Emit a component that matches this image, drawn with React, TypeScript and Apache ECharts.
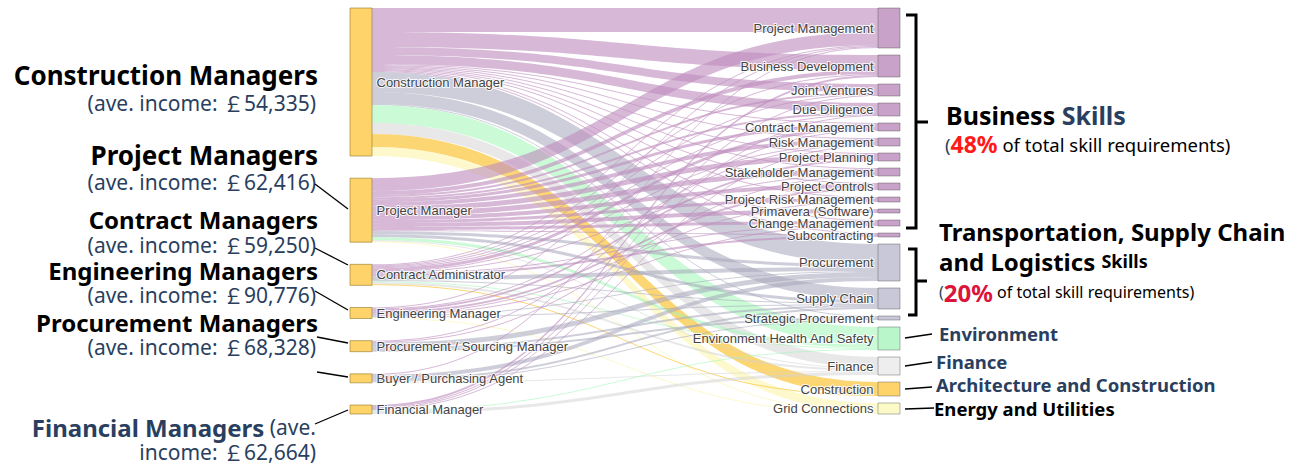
import React, { useEffect, useRef } from 'react';
import * as echarts from 'echarts';

// ---------- DATA ----------
const jobTitles = [
  'Construction Manager',
  'Project Manager',
  'Contract Administrator',
  'Engineering Manager',
  'Procurement / Sourcing Manager',
  'Buyer / Purchasing Agent',
  'Financial Manager',
];

const skills = [
  'Project Management',
  'Business Development',
  'Joint Ventures',
  'Due Diligence',
  'Contract Management',
  'Risk Management',
  'Project Planning',
  'Stakeholder Management',
  'Project Controls',
  'Project Risk Management',
  'Primavera (Software)',
  'Change Management',
  'Subcontracting',
  'Procurement',
  'Supply Chain',
  'Strategic Procurement',
  'Environment Health And Safety',
  'Finance',
  'Construction',
  'Grid Connections',
];

const skillGroups = [
  'business', 'business', 'business', 'business', 'business', 'business', 'business',
  'business', 'business', 'business', 'business', 'business', 'business',
  'supply', 'supply', 'supply',
  'environment', 'finance', 'construction', 'energy',
];

// flows from each job title to each skill (same order as skills)
const constructionManagerFlows = [24, 15, 8, 9, 1, 1, 1, 1, 1, 1, 0, 1, 1, 20, 12, 1, 18, 11, 13, 9];
const projectManagerFlows = [13, 4, 2, 2, 3, 4, 5, 5, 4, 3, 4, 3, 1, 3, 3, 0, 3, 1, 0, 1];
const contractAdministratorFlows = [1, 1, 1, 1, 3, 1, 0, 1, 0, 0, 0, 1, 2, 4, 1, 0, 1, 2, 1, 0];
const engineeringManagerFlows = [1, 0, 0, 0, 0, 1, 2, 0, 2, 1, 0, 1, 0, 1, 1, 0, 0, 0, 0, 1];
const procurementManagerFlows = [0, 0, 0, 0, 1, 0, 0, 1, 0, 0, 0, 0, 0, 5, 2, 2, 0, 0, 0, 0];
const buyerFlows = [1, 0, 0, 0, 0, 0, 0, 0, 0, 0, 0, 0, 0, 4, 2, 1, 0, 1, 0, 0];
const financialManagerFlows = [0, 2, 1, 1, 0, 1, 0, 0, 0, 0, 0, 0, 0, 0, 0, 0, 1, 3, 0, 0];

const flowsByJob = [
  constructionManagerFlows,
  projectManagerFlows,
  contractAdministratorFlows,
  engineeringManagerFlows,
  procurementManagerFlows,
  buyerFlows,
  financialManagerFlows,
];

const incomes = ['54,335', '62,416', '59,250', '90,776', '68,328', '62,664'];

// ---------- STYLE ----------
const nodeColors: Record<string, string> = {
  business: '#c8a2c8',
  supply: '#c8c8d8',
  environment: '#b9f6c9',
  finance: '#eeeeee',
  construction: '#fdd36a',
  energy: '#fcfbc8',
};
const linkColors: Record<string, string> = {
  business: 'rgba(190,142,190,0.62)',
  supply: 'rgba(165,165,188,0.55)',
  environment: 'rgba(160,245,180,0.55)',
  finance: 'rgba(210,210,210,0.5)',
  construction: 'rgba(252,200,70,0.75)',
  energy: 'rgba(252,245,170,0.6)',
};
const jobColor = '#fdd36a';

const BOX_LEFT = 350;
const BOX_TOP = 8;
const BOX_W = 550;
const BOX_H = 406;
const NODE_W = 22;

const FONT = "'Noto Sans', 'Noto Sans CJK SC', sans-serif";
const SLATE = '#2a3f5f';

export default function App() {
  const ref = useRef<HTMLDivElement>(null);

  useEffect(() => {
    if (!ref.current) return;
    const chart = echarts.init(ref.current, undefined, { renderer: 'svg' });

    const jobTotals = flowsByJob.map((row) => row.reduce((a, b) => a + b, 0));
    const total = jobTotals.reduce((a, b) => a + b, 0);
    // right column fills the box with ky = 1
    const nodeGap = (BOX_H - total) / (skills.length - 1);
    const ky = (BOX_H - (skills.length - 1) * nodeGap) / total;
    // left column spread evenly over the full height
    const leftGap = (BOX_H - total * ky) / (jobTitles.length - 1);
    let acc = 0;
    const leftTops = jobTotals.map((v, i) => {
      const t = acc + i * leftGap;
      acc += v * ky;
      return t;
    });

    const labelBase = {
      fontFamily: "'Liberation Sans', Arial, sans-serif",
      fontSize: 13,
      lineHeight: 11,
      color: '#444',
      textBorderColor: 'rgba(255,255,255,0.85)',
      textBorderWidth: 2,
    };

    const nodes: any[] = [
      ...jobTitles.map((name, i) => ({
        name,
        localY: leftTops[i] / BOX_H,
        itemStyle: { color: jobColor, borderColor: 'rgba(150,120,40,0.6)', borderWidth: 1 },
        label: { ...labelBase, position: 'right', distance: 4 },
      })),
      ...skills.map((name, i) => ({
        name,
        itemStyle: {
          color: nodeColors[skillGroups[i]],
          borderColor: 'rgba(90,90,90,0.45)',
          borderWidth: 1,
        },
        label: { ...labelBase, position: 'left', distance: 4 },
      })),
    ];

    const links: any[] = [];
    flowsByJob.forEach((row, j) => {
      row.forEach((v, s) => {
        if (v > 0) {
          links.push({
            source: jobTitles[j],
            target: skills[s],
            value: v,
            lineStyle: { color: linkColors[skillGroups[s]], opacity: 1 },
          });
        }
      });
    });

    const leftTitle = (text: string, y: number, size: number, fill = '#000') => ({
      type: 'text',
      x: 318,
      y,
      style: { text, fill, font: `bold ${size}px ${FONT}`, align: 'right', verticalAlign: 'middle' },
    });
    const leftIncome = (text: string, y: number) => ({
      type: 'text',
      x: 316,
      y,
      style: { text, fill: SLATE, font: `21px ${FONT}`, align: 'right', verticalAlign: 'middle' },
    });
    const ln = (pts: number[][], w = 1.3) => ({
      type: 'polyline',
      shape: { points: pts },
      style: { stroke: '#000', lineWidth: w, fill: null },
    });
    const rightLabel = (text: string, x: number, y: number, fill: string) => ({
      type: 'text',
      x,
      y,
      style: { text, fill, font: `bold 18.5px ${FONT}`, align: 'left', verticalAlign: 'middle' },
    });

    const graphic: any[] = [
      leftTitle('Construction Managers', 75, 26),
      leftIncome(`(ave. income: ￡${incomes[0]})`, 103),
      leftTitle('Project Managers', 155, 26),
      leftIncome(`(ave. income: ￡${incomes[1]})`, 182),
      leftTitle('Contract Managers', 219, 24),
      leftIncome(`(ave. income: ￡${incomes[2]})`, 245),
      leftTitle('Engineering Managers', 270, 24),
      leftIncome(`(ave. income: ￡${incomes[3]})`, 295),
      leftTitle('Procurement Managers', 322, 24),
      leftIncome(`(ave. income: ￡${incomes[4]})`, 347),
      {
        type: 'text',
        x: 316,
        y: 427,
        style: {
          text: '{a|Financial Managers}{b| (ave.}',
          align: 'right',
          verticalAlign: 'middle',
          rich: {
            a: { fill: SLATE, fontFamily: FONT, fontSize: 24, fontWeight: 'bold' },
            b: { fill: SLATE, fontFamily: FONT, fontSize: 21 },
          },
        },
      },
      leftIncome(`income: ￡${incomes[5]})`, 452),
      // left connector lines
      ln([[315, 184], [348, 209]]),
      ln([[315, 248], [348, 265]]),
      ln([[315, 291], [348, 310]]),
      ln([[317, 337], [348, 343]]),
      ln([[317, 372], [348, 377]]),
      ln([[315, 424], [348, 410]]),
      // brackets
      ln([[906, 15], [916, 15], [916, 228], [906, 228]], 3),
      ln([[916, 122], [928, 122]], 3),
      ln([[908, 249], [916, 249], [916, 315], [908, 315]], 3),
      ln([[916, 281], [927, 281]], 3),
      // right connector lines
      ln([[905, 338], [932, 334]]),
      ln([[905, 366], [932, 362]]),
      ln([[905, 389], [932, 387]]),
      ln([[905, 409], [934, 408]]),
      {
        type: 'text',
        x: 946,
        y: 115,
        style: {
          text: '{a|Business }{b|Skills}',
          align: 'left',
          verticalAlign: 'middle',
          rich: {
            a: { fill: '#000', fontFamily: FONT, fontSize: 25, fontWeight: 'bold' },
            b: { fill: SLATE, fontFamily: FONT, fontSize: 25, fontWeight: 'bold' },
          },
        },
      },
      {
        type: 'text',
        x: 945,
        y: 144,
        style: {
          text: '{p|(}{r|48%}{t| of total skill requirements)}',
          align: 'left',
          verticalAlign: 'middle',
          rich: {
            p: { fill: SLATE, fontFamily: FONT, fontSize: 18.5 },
            r: { fill: '#ff1a1a', fontFamily: FONT, fontSize: 23, fontWeight: 'bold' },
            t: { fill: '#000', fontFamily: FONT, fontSize: 18.5 },
          },
        },
      },
      {
        type: 'text',
        x: 939,
        y: 231,
        style: {
          text: 'Transportation, Supply Chain',
          fill: '#000',
          font: `bold 24px ${FONT}`,
          align: 'left',
          verticalAlign: 'middle',
        },
      },
      {
        type: 'text',
        x: 939,
        y: 261,
        style: {
          text: '{a|and Logistics }{b|Skills}',
          align: 'left',
          verticalAlign: 'middle',
          rich: {
            a: { fill: '#000', fontFamily: FONT, fontSize: 24, fontWeight: 'bold' },
            b: { fill: '#000', fontFamily: FONT, fontSize: 18, fontWeight: 'bold' },
          },
        },
      },
      {
        type: 'text',
        x: 939,
        y: 292,
        style: {
          text: '{p|(}{r|20%}{t| of total skill requirements)}',
          align: 'left',
          verticalAlign: 'middle',
          rich: {
            p: { fill: SLATE, fontFamily: FONT, fontSize: 16 },
            r: { fill: '#dc143c', fontFamily: FONT, fontSize: 24, fontWeight: 'bold' },
            t: { fill: '#000', fontFamily: FONT, fontSize: 16 },
          },
        },
      },
      rightLabel('Environment', 939, 333, SLATE),
      rightLabel('Finance', 936, 361, SLATE),
      rightLabel('Architecture and Construction', 936, 384, SLATE),
      rightLabel('Energy and Utilities', 934, 408, '#000'),
    ];

    chart.setOption({
      animation: false,
      series: [
        {
          type: 'sankey',
          left: BOX_LEFT,
          top: BOX_TOP,
          width: BOX_W,
          height: BOX_H,
          nodeWidth: NODE_W,
          nodeGap,
          layoutIterations: 0,
          draggable: false,
          emphasis: { disabled: true },
          lineStyle: { curveness: 0.5, opacity: 1 },
          data: nodes,
          links,
        },
      ],
      graphic,
    });

    return () => chart.dispose();
  }, []);

  return (
    <div
      ref={ref}
      style={{ position: 'absolute', left: 0, top: 0, width: 1300, height: 467, background: '#fff' }}
    />
  );
}
